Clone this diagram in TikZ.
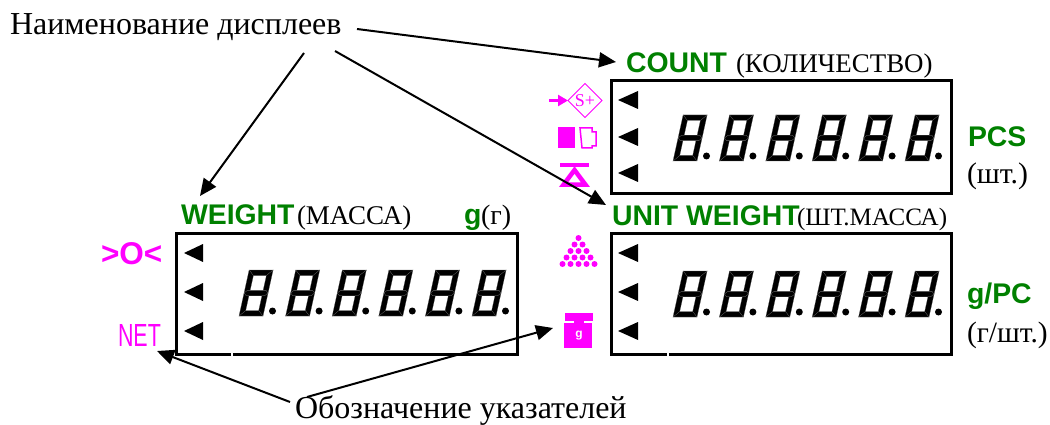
\documentclass[tikz,border=0pt]{standalone}
\usepackage{fontspec}
\setmainfont{Liberation Serif}
\newfontfamily\arialfont{Liberation Sans}
\usetikzlibrary{arrows.meta, shapes.geometric}

\definecolor{lblgreen}{RGB}{0,128,0}
\definecolor{lblpink}{RGB}{255,0,255}

\newcommand{\sfsize}{\arialfont\bfseries\fontsize{28.4}{30}\selectfont}

\tikzset{
  x=1pt, y=-1pt,
  every node/.style={inner sep=0pt, outer sep=0pt},
  dispbox/.style={draw, line width=3pt, minimum width=340pt, minimum height=121pt},
  marktri/.style={fill=black},
  seg/.style={fill=black, draw=black!65, line width=0.2pt},
  lblsf/.style={anchor=base west, text=lblgreen, font=\sfsize},
  lblrm/.style={anchor=base west, font=\fontsize{#1}{#1}\selectfont},
  lblarrow/.style={line width=2pt, -{Triangle[length=17pt, width=15pt]}},
  pinkfill/.style={fill=lblpink, draw=none},
  pics/segdigit/.style={code={
    \begin{scope}[xslant=0.22]
      \path[seg] (0,-46) -- (24,-46) -- (18.5,-40.5) -- (5.5,-40.5) -- cycle;
      \path[seg] (0,0) -- (24,0) -- (18.5,-5.5) -- (5.5,-5.5) -- cycle;
      \path[seg] (0,-23) -- (2.75,-25.75) -- (21.25,-25.75) -- (24,-23) -- (21.25,-20.25) -- (2.75,-20.25) -- cycle;
      \path[seg] (0,-46) -- (5.5,-40.5) -- (5.5,-25.75) -- (2.75,-25.75) -- (0,-23) -- cycle;
      \path[seg] (24,-46) -- (18.5,-40.5) -- (18.5,-25.75) -- (21.25,-25.75) -- (24,-23) -- cycle;
      \path[seg] (0,0) -- (5.5,-5.5) -- (5.5,-20.25) -- (2.75,-20.25) -- (0,-23) -- cycle;
      \path[seg] (24,0) -- (18.5,-5.5) -- (18.5,-20.25) -- (21.25,-20.25) -- (24,-23) -- cycle;
    \end{scope}
    \fill (33.5,-5) circle (3.5);
  }}
}

\begin{document}
\begin{tikzpicture}
\useasboundingbox (0,0) rectangle (1050,425);

% DISPLAYS
\node[dispbox, minimum height=113pt] (count) at (781,137.5) {};
\node[dispbox] (unit) at (781,293.5) {};
\node[dispbox, minimum width=341pt] (weight) at (346.5,293.5) {};
\draw[white, line width=3.6pt] (231,354) -- (233,354);
\draw[white, line width=3.6pt] (667,354) -- (669,354);
% digits
\foreach \j in {0,...,5} {
  \pic at (673+46.4*\j,161) {segdigit};
  \pic at (673+46.4*\j,317) {segdigit};
  \pic at (239+46.6*\j,316) {segdigit};
}
% marks
\foreach \ypos in {100,137,173}
  \fill[marktri] (618,\ypos) -- (638,\ypos-9) -- (638,\ypos+9) -- cycle;
\foreach \ypos in {253,292,331} {
  \fill[marktri] (618,\ypos) -- (638,\ypos-9) -- (638,\ypos+9) -- cycle;
  \fill[marktri] (184,\ypos) -- (203,\ypos-9) -- (203,\ypos+9) -- cycle;
}

% LABELS
\node[lblrm=32] (names) at (10,35) {Наименование дисплеев};
\node[lblrm=32] (signs) at (295,418) {Обозначение указателей};
\node[lblsf] (lblcount) at (626,72.5) {COUNT};
\node[lblrm=26.9] (lblcountru) at (736,72.5) {(КОЛИЧЕСТВО)};
\node[lblsf] (lblunit) at (612,225) {UNIT WEIGHT};
\node[lblrm=25] (lblunitru) at (797,225) {(ШТ.МАССА)};
\node[lblsf] (lblweight) at (181,224) {WEIGHT};
\node[lblrm=27] (lblweightru) at (297,224) {(МАССА)};
\node[lblsf] (lblg) at (464,224) {g};
\node[lblrm=28] (lblgru) at (481,224) {(г)};
\node[lblsf] (lblpcs) at (968,147) {PCS};
\node[lblrm=29.8] (lblpcsru) at (967,183) {(шт.)};
\node[lblsf] (lblgpc) at (967,303) {g/PC};
\node[lblrm=29.5] (lblgpcru) at (967,342) {(г/шт.)};
\node[anchor=base west, text=lblpink, font=\arialfont\bfseries\fontsize{31.5}{32}\selectfont] (zero) at (101,264.5) {>O<};
\node[anchor=base west, text=lblpink, font=\arialfont\fontsize{32}{32}\selectfont] (net) at (118,346) {\scalebox{.67}[1]{NET}};

% ICONS
% s+
\node[draw=lblpink, line width=0.8pt, diamond, aspect=1, minimum size=34pt, text=lblpink, font=\fontsize{18}{18}\selectfont] (splus) at (585,100.5) {S+};
\coordinate (splusin) at (549,100.5);
\draw[lblpink, line width=3pt, -{Triangle[length=10pt, width=11pt]}] (splusin) -- (splus.west);
% tare
\fill[pinkfill] (558,127) rectangle (575,148);
\draw[lblpink, line width=1.5pt] (580,128) -- (592,128) -- (592,132) -- (596,132) -- (596,146) -- (592,146) -- (592,148) -- (582,148) -- cycle;
% scale
\fill[pinkfill] (560,163) rectangle (589,167);
\draw[lblpink, line width=4.5pt, line join=miter] (574.5,170) -- (585.5,184.7) -- (563.5,184.7) -- cycle;
% pieces
\foreach \j in {0,...,4} {
  \foreach \k in {0,...,\j} {
    \fill[pinkfill] (578.5-4*\j+8*\k,238+6.5*\j) circle (3);
  }
}
% weight icon
\fill[pinkfill] (565,313) rectangle (593,321);
\fill[pinkfill] (564,323) rectangle (592,348);
\fill[pinkfill] (574,320) rectangle (584,324);
\node[text=white, font=\arialfont\bfseries\fontsize{12}{12}\selectfont] (gicon) at (579,336) {g};

% EDGES
\coordinate (namestail) at (357,29);
\coordinate (namesleft) at (304,53);
\coordinate (namesmid) at (335,51);
\coordinate (countend) at (616,62);
\coordinate (weightend) at (200,196);
\coordinate (unitend) at (606,205);
\coordinate (signsleft) at (290,402);
\coordinate (signsright) at (307,397);
\coordinate (netend) at (157,351);
\coordinate (iconend) at (553,328);
\draw[lblarrow] (namestail) -- (countend);
\draw[lblarrow] (namesleft) -- (weightend);
\draw[lblarrow] (namesmid) -- (unitend);
\draw[lblarrow] (signsleft) -- (netend);
\draw[lblarrow] (signsright) -- (iconend);

\end{tikzpicture}
\end{document}
